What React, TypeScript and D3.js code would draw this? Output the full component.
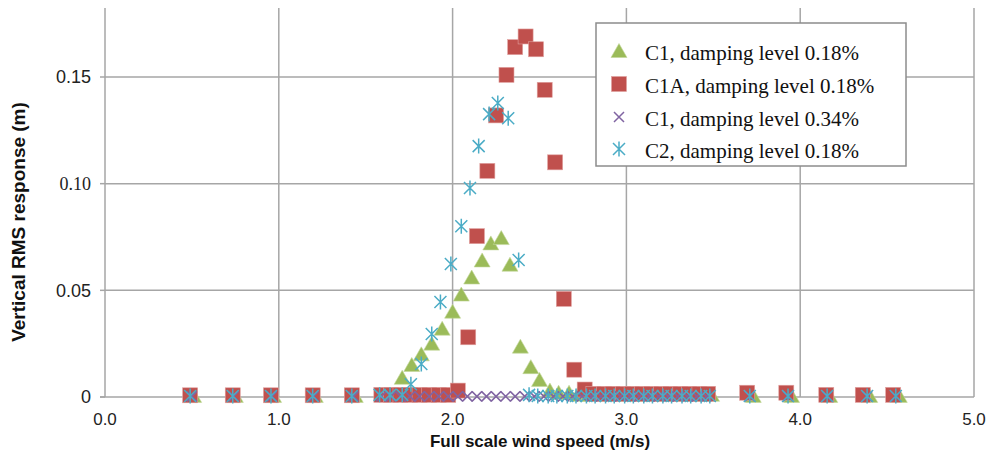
import React from 'react'
import * as d3 from 'd3'

// [wind speed (m/s), vertical RMS response (m)]
const c1Low: [number, number][] = [
  [0.51, 0.0005], [0.75, 0.0005], [0.97, 0.0005], [1.21, 0.0005], [1.44, 0.0005],
  [1.6, 0.001], [1.655, 0.001], [1.71, 0.009], [1.765, 0.015], [1.82, 0.02], [1.88, 0.025],
  [1.94, 0.032], [2.0, 0.04], [2.05, 0.048], [2.11, 0.056], [2.17, 0.064], [2.22, 0.072],
  [2.28, 0.0745], [2.33, 0.062], [2.39, 0.0236], [2.45, 0.014], [2.5, 0.008], [2.56, 0.003],
  [2.61, 0.002], [2.67, 0.002], [2.72, 0.001], [2.78, 0.001], [2.83, 0.001], [2.89, 0.001],
  [2.94, 0.001], [3.0, 0.001], [3.05, 0.001], [3.11, 0.001], [3.16, 0.001], [3.22, 0.001],
  [3.27, 0.001], [3.33, 0.001], [3.38, 0.001], [3.44, 0.001], [3.49, 0.001],
  [3.73, 0.0005], [3.95, 0.0005], [4.17, 0.0005], [4.4, 0.0005], [4.57, 0.0005],
]

const c1a: [number, number][] = [
  [0.49, 0.0008], [0.735, 0.0008], [0.955, 0.0008], [1.195, 0.0008], [1.42, 0.0008],
  [1.59, 0.001], [1.645, 0.001], [1.7, 0.001], [1.755, 0.001], [1.81, 0.001], [1.865, 0.001],
  [1.92, 0.001], [1.975, 0.001], [2.03, 0.003], [2.09, 0.028], [2.14, 0.0754], [2.2, 0.106],
  [2.25, 0.132], [2.31, 0.151], [2.36, 0.164], [2.42, 0.169], [2.48, 0.163], [2.53, 0.144],
  [2.59, 0.11], [2.64, 0.046], [2.7, 0.0128], [2.76, 0.0035], [2.81, 0.0015], [2.87, 0.0015],
  [2.92, 0.0015], [2.98, 0.0015], [3.03, 0.0015], [3.09, 0.0015], [3.14, 0.0015], [3.2, 0.0015],
  [3.25, 0.0015], [3.31, 0.0015], [3.36, 0.0015], [3.42, 0.0015], [3.47, 0.0015],
  [3.695, 0.002], [3.92, 0.002], [4.15, 0.001], [4.36, 0.001], [4.535, 0.001],
]

const c1High: [number, number][] = [
  [0.5, 0.0003], [0.74, 0.0003], [0.96, 0.0003], [1.2, 0.0003], [1.43, 0.0003],
  [1.59, 0.0003], [1.645, 0.0003], [1.7, 0.0003], [1.755, 0.0003], [1.81, 0.0003], [1.865, 0.0003],
  [1.92, 0.0003], [1.975, 0.0003], [2.03, 0.0003], [2.085, 0.0003], [2.14, 0.0003], [2.195, 0.0003],
  [2.25, 0.0003], [2.305, 0.0003], [2.36, 0.0003], [2.415, 0.0003], [2.47, 0.0003], [2.525, 0.0003],
  [2.58, 0.0003], [2.635, 0.0003], [2.69, 0.0003], [2.745, 0.0003], [2.8, 0.0003], [2.855, 0.0003],
  [2.91, 0.0003], [2.965, 0.0003], [3.02, 0.0003], [3.075, 0.0003], [3.13, 0.0003], [3.185, 0.0003],
  [3.24, 0.0003], [3.295, 0.0003], [3.35, 0.0003], [3.405, 0.0003], [3.46, 0.0003],
  [3.71, 0.0003], [3.93, 0.0003], [4.155, 0.0003], [4.385, 0.0003], [4.55, 0.0003],
]

const c2: [number, number][] = [
  [0.49, 0.0005], [0.735, 0.0005], [0.955, 0.0005], [1.195, 0.0005], [1.42, 0.0005],
  [1.58, 0.001], [1.64, 0.001], [1.71, 0.001], [1.76, 0.006], [1.82, 0.0155], [1.88, 0.0295],
  [1.93, 0.0445], [1.99, 0.0623], [2.05, 0.08], [2.1, 0.098], [2.15, 0.1176], [2.21, 0.1326],
  [2.26, 0.1378], [2.32, 0.1307], [2.38, 0.0642], [2.44, 0.001], [2.49, 0.0005], [2.55, 0.0005],
  [2.6, 0.0005], [2.66, 0.0005], [2.71, 0.0005], [2.77, 0.0005], [2.82, 0.0005], [2.88, 0.0005],
  [2.93, 0.0005], [2.99, 0.0005], [3.04, 0.0005], [3.1, 0.0005], [3.15, 0.0005], [3.21, 0.0005],
  [3.26, 0.0005], [3.32, 0.0005], [3.37, 0.0005], [3.43, 0.0005], [3.48, 0.0005],
  [3.71, 0.0005], [3.93, 0.0005], [4.155, 0.0005], [4.385, 0.0005], [4.55, 0.0005],
]

const xTicks = [0, 1, 2, 3, 4, 5]
const yTicks = [0, 0.05, 0.1, 0.15]
const yTickLabels = ['0', '0.05', '0.10', '0.15']
const legendLabels = [
  'C1, damping level 0.18%',
  'C1A, damping level 0.18%',
  'C1, damping level 0.34%',
  'C2, damping level 0.18%',
]

const GREEN = '#9bbb59'
const RED = '#c0504d'
const PURPLE = '#8064a2'
const BLUE = '#4bacc6'
const GRID = '#a6a6a6'

const left = 105
const right = 974
const top = 8
const bottom = 397

const x = d3.scaleLinear().domain([0, 5]).range([left, right])
const y = d3.scaleLinear().domain([0, 0.15]).range([bottom, 77])

const Marker = ({ kind, cx, cy }: { kind: string; cx: number; cy: number }) => {
  if (kind === 'tri') {
    return <path d={`M${cx},${cy - 7.5}L${cx + 8},${cy + 6.5}L${cx - 8},${cy + 6.5}Z`} fill={GREEN} stroke="#c3d69b" strokeWidth={0.6} />
  }
  if (kind === 'sq') {
    return <rect x={cx - 7.5} y={cy - 7.5} width={15} height={15} fill={RED} stroke="#e0a09e" strokeWidth={0.6} />
  }
  if (kind === 'x') {
    return <path d={`M${cx - 5},${cy - 5}L${cx + 5},${cy + 5}M${cx - 5},${cy + 5}L${cx + 5},${cy - 5}`} stroke={PURPLE} strokeWidth={1.5} fill="none" />
  }
  return <path d={`M${cx - 6},${cy - 6}L${cx + 6},${cy + 6}M${cx - 6},${cy + 6}L${cx + 6},${cy - 6}M${cx},${cy - 7.5}L${cx},${cy + 7.5}`} stroke={BLUE} strokeWidth={1.5} fill="none" />
}

const series = [
  { data: c1Low, kind: 'tri' },
  { data: c1a, kind: 'sq' },
  { data: c1High, kind: 'x' },
  { data: c2, kind: 'star' },
]

export default function App() {
  const sans = 'Liberation Sans, Arial, sans-serif'
  const serif = 'Liberation Serif, Times New Roman, serif'
  const legendY = [53, 86, 119, 151]
  return (
    <svg width={988} height={453} style={{ position: 'absolute', left: 0, top: 0, background: '#fff' }}>
      {/* grid */}
      {yTicks.slice(1).map(t => (
        <line key={'gy' + t} x1={left} x2={right} y1={y(t)} y2={y(t)} stroke={GRID} strokeWidth={1.5} />
      ))}
      {xTicks.slice(1).map(t => (
        <line key={'gx' + t} x1={x(t)} x2={x(t)} y1={top} y2={bottom} stroke={GRID} strokeWidth={1.5} />
      ))}
      {/* axes */}
      <line x1={left} x2={left} y1={top} y2={bottom} stroke={GRID} strokeWidth={1.5} />
      <line x1={left - 5} x2={right} y1={bottom} y2={bottom} stroke={GRID} strokeWidth={1.5} />
      {yTicks.map(t => (
        <line key={'ty' + t} x1={left - 5} x2={left} y1={y(t)} y2={y(t)} stroke={GRID} strokeWidth={1.5} />
      ))}
      {yTicks.map((t, i) => (
        <text key={'ly' + t} x={91} y={y(t)} dy="0.35em" textAnchor="end" fontSize={18}
          fontFamily={i === 2 ? serif : sans} fill="#222">{yTickLabels[i]}</text>
      ))}
      {xTicks.map(t => (
        <text key={'lx' + t} x={x(t)} y={425} textAnchor="middle" fontSize={17} fontFamily={sans} fill="#222">
          {t.toFixed(1)}
        </text>
      ))}
      <text x={540} y={447} textAnchor="middle" fontSize={17} fontWeight="bold" fontFamily={sans} fill="#111">
        Full scale wind speed (m/s)
      </text>
      <text transform="translate(25,222) rotate(-90)" textAnchor="middle" fontSize={19} fontWeight="bold" fontFamily={sans} fill="#111">
        Vertical RMS response (m)
      </text>
      {/* points */}
      {series.map(s => (
        <g key={s.kind}>
          {s.data.map((d, i) => (
            <Marker key={i} kind={s.kind} cx={x(d[0])} cy={y(d[1])} />
          ))}
        </g>
      ))}
      {/* legend */}
      <rect x={596} y={23} width={310} height={143} fill="#fff" stroke="#8c8c8c" strokeWidth={1.5} />
      {series.map((s, i) => (
        <g key={'lg' + i}>
          <Marker kind={s.kind} cx={619} cy={legendY[i] - 2} />
          <text x={645} y={legendY[i]} dy="0.35em" fontSize={21} fontFamily={serif} fill="#111">{legendLabels[i]}</text>
        </g>
      ))}
    </svg>
  )
}
